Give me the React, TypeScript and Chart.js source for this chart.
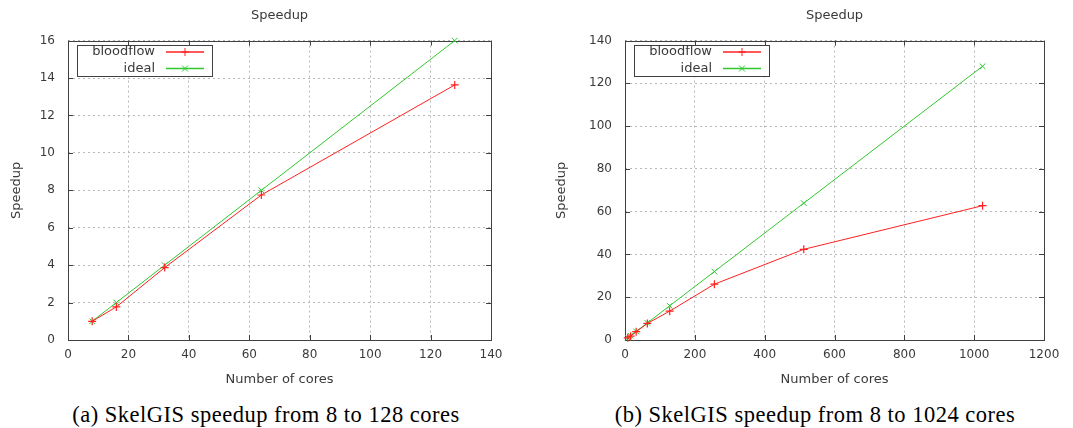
import React, { useEffect, useRef } from 'react';
import { Chart, registerables } from 'chart.js';

Chart.register(...registerables);

const coresA = [8, 16, 32, 64, 128];
const bloodflowA = [1, 1.77, 3.87, 7.75, 13.63];
const idealA = [1, 2, 4, 8, 16];

const coresB = [8, 16, 32, 64, 128, 256, 512, 1024];
const bloodflowB = [1, 1.77, 3.87, 7.75, 13.5, 26.1, 42.4, 62.8];
const idealB = [1, 2, 4, 8, 16, 32, 64, 128];

const seriesNames = ['bloodflow', 'ideal'];
const captionA = '(a) SkelGIS speedup from 8 to 128 cores';
const captionB = '(b) SkelGIS speedup from 8 to 1024 cores';

const FONT = '"DejaVu Sans", sans-serif';
const TEXT = '#3a3a3a';
const GRID = '#b8b8b8';
const BORDER = '#404040';
const RED = '#ff2020';
const GREEN = '#30c830';

function drawMarker(ctx: CanvasRenderingContext2D, style: string, x: number, y: number, r: number) {
  ctx.beginPath();
  if (style === 'cross') {
    ctx.moveTo(x - r, y); ctx.lineTo(x + r, y);
    ctx.moveTo(x, y - r); ctx.lineTo(x, y + r);
  } else {
    const d = r * 0.75;
    ctx.moveTo(x - d, y - d); ctx.lineTo(x + d, y + d);
    ctx.moveTo(x - d, y + d); ctx.lineTo(x + d, y - d);
  }
  ctx.stroke();
}

const framePlugin = {
  id: 'frame',
  beforeDatasetsDraw(chart: any) {
    const { ctx, chartArea: a, scales } = chart;
    ctx.save();
    ctx.strokeStyle = BORDER;
    ctx.lineWidth = 1;
    const tl = 5;
    scales.x.ticks.forEach((t: any) => {
      const px = Math.round(scales.x.getPixelForValue(t.value)) + 0.5;
      ctx.beginPath();
      ctx.moveTo(px, a.bottom); ctx.lineTo(px, a.bottom - tl);
      ctx.moveTo(px, a.top); ctx.lineTo(px, a.top + tl);
      ctx.stroke();
    });
    scales.y.ticks.forEach((t: any) => {
      const py = Math.round(scales.y.getPixelForValue(t.value)) + 0.5;
      ctx.beginPath();
      ctx.moveTo(a.left, py); ctx.lineTo(a.left + tl, py);
      ctx.moveTo(a.right, py); ctx.lineTo(a.right - tl, py);
      ctx.stroke();
    });
    ctx.strokeRect(Math.round(a.left) + 0.5, Math.round(a.top) + 0.5, Math.round(a.right - a.left), Math.round(a.bottom - a.top));
    ctx.restore();
  },
  afterDatasetsDraw(chart: any) {
    const { ctx, chartArea: a } = chart;
    ctx.save();
    const bx = Math.round(a.left) + 9.5;
    const by = Math.round(a.top) + 4.5;
    const bw = 135;
    const bh = 31;
    ctx.fillStyle = '#ffffff';
    ctx.fillRect(bx, by, bw, bh);
    ctx.strokeStyle = BORDER;
    ctx.lineWidth = 1;
    ctx.strokeRect(bx, by, bw, bh);
    ctx.font = '13px ' + FONT;
    ctx.textAlign = 'right';
    ctx.textBaseline = 'middle';
    chart.data.datasets.forEach((ds: any, i: number) => {
      const ry = Math.round(a.top) + 11 + i * 16.5;
      ctx.fillStyle = TEXT;
      ctx.fillText(ds.label, a.left + 87, ry);
      ctx.strokeStyle = ds.borderColor;
      ctx.lineWidth = 1.5;
      ctx.beginPath();
      ctx.moveTo(a.left + 98, ry); ctx.lineTo(a.left + 136, ry);
      ctx.stroke();
      ctx.lineWidth = 1;
      drawMarker(ctx, ds.pointStyle, a.left + 117, ry, 4);
    });
    ctx.restore();
  },
};

function makeConfig(cores: number[], bf: number[], ideal: number[], xMax: number, xStep: number, yMax: number, yStep: number, yWidth: number, yTitlePad: number, padRight: number): any {
  const tickFont = { family: FONT, size: 12 };
  const titleFont = { family: FONT, size: 13, weight: 'normal' as const };
  const fmt = (v: any) => String(v);
  return {
    type: 'line',
    data: {
      datasets: [
        {
          label: seriesNames[0],
          data: cores.map((c, i) => ({ x: c, y: bf[i] })),
          borderColor: RED,
          backgroundColor: RED,
          borderWidth: 1,
          pointStyle: 'cross',
          pointRadius: 4,
          pointBorderWidth: 1.2,
          pointBorderColor: RED,
          tension: 0,
          fill: false,
          clip: false,
        },
        {
          label: seriesNames[1],
          data: cores.map((c, i) => ({ x: c, y: ideal[i] })),
          borderColor: GREEN,
          backgroundColor: GREEN,
          borderWidth: 1,
          pointStyle: 'crossRot',
          pointRadius: 4,
          pointBorderWidth: 1,
          pointBorderColor: GREEN,
          tension: 0,
          fill: false,
          clip: false,
        },
      ],
    },
    options: {
      animation: false,
      responsive: false,
      devicePixelRatio: 1,
      events: [],
      layout: { padding: { left: 0, right: padRight, top: 0, bottom: 0 } },
      plugins: {
        legend: { display: false },
        tooltip: { enabled: false },
        title: {
          display: true,
          text: 'Speedup',
          fullSize: false,
          color: TEXT,
          font: titleFont,
          padding: { top: 8, bottom: 17 },
        },
      },
      scales: {
        x: {
          type: 'linear',
          min: 0,
          max: xMax,
          ticks: { stepSize: xStep, color: TEXT, font: tickFont, padding: 8, maxRotation: 0, callback: fmt },
          grid: { color: GRID, drawTicks: false, lineWidth: 1 },
          border: { display: false, dash: [2, 3] },
          title: { display: true, text: 'Number of cores', color: TEXT, font: titleFont, padding: { top: 0, bottom: 8 } },
          afterFit: (s: any) => { s.height = 55; },
        },
        y: {
          type: 'linear',
          min: 0,
          max: yMax,
          ticks: { stepSize: yStep, color: TEXT, font: tickFont, padding: 13, callback: fmt },
          grid: { color: GRID, drawTicks: false, lineWidth: 1 },
          border: { display: false, dash: [2, 3] },
          title: { display: true, text: 'Speedup', color: TEXT, font: titleFont, padding: { top: yTitlePad, bottom: 0 } },
          afterFit: (s: any) => { s.width = yWidth; },
        },
      },
    },
    plugins: [framePlugin],
  };
}

function ChartCanvas({ config, width, height }: { config: any; width: number; height: number }) {
  const ref = useRef<HTMLCanvasElement>(null);
  useEffect(() => {
    if (!ref.current) return;
    const chart = new Chart(ref.current, config);
    return () => chart.destroy();
  }, [config]);
  return <canvas ref={ref} width={width} height={height} style={{ display: 'block', width, height }} />;
}

const cfgA = makeConfig(coresA, bloodflowA, idealA, 140, 20, 16, 2, 68, 9, 45);
const cfgB = makeConfig(coresB, bloodflowB, idealB, 1200, 200, 140, 20, 89, 18, 29);

export default function App() {
  const captionStyle: React.CSSProperties = {
    position: 'absolute',
    top: 402,
    fontFamily: '"Liberation Serif", "Times New Roman", serif',
    fontSize: 22.5,
    letterSpacing: '0.5px',
    lineHeight: '26px',
    color: '#000',
    whiteSpace: 'nowrap',
    textAlign: 'center',
  };
  return (
    <div style={{ position: 'absolute', left: 0, top: 0, width: 1073, height: 428, background: '#fff', overflow: 'hidden' }}>
      <div style={{ position: 'absolute', left: 0, top: 0 }}>
        <ChartCanvas config={cfgA} width={536} height={395} />
      </div>
      <div style={{ position: 'absolute', left: 536, top: 0 }}>
        <ChartCanvas config={cfgB} width={537} height={395} />
      </div>
      <div style={{ ...captionStyle, left: 46, width: 440 }}>{captionA}</div>
      <div style={{ ...captionStyle, left: 595, width: 440 }}>{captionB}</div>
    </div>
  );
}
